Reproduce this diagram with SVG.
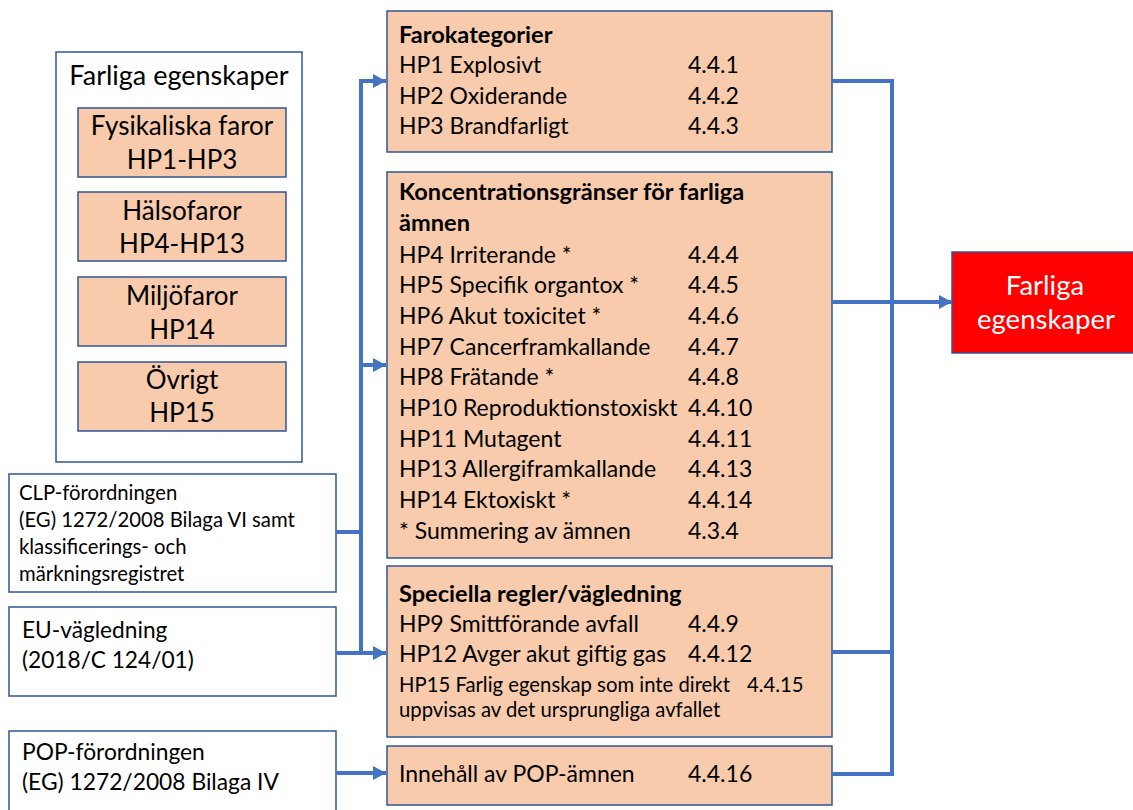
<svg xmlns="http://www.w3.org/2000/svg" width="1133" height="810" viewBox="0 0 1133 810">
<defs>
<marker id="arr" markerUnits="userSpaceOnUse" markerWidth="14" markerHeight="16" refX="13" refY="7" orient="auto">
<path d="M0,0 L13,7 L0,14 Z" fill="#4472C4"/>
</marker>
<style>
.t{font-family:Lato,"Open Sans",sans-serif;fill:#000}
.peach{fill:#F8CBAD;stroke:#2F5597;stroke-width:1.5}
.white{fill:#fff;stroke:#2F5597;stroke-width:1.5}
.c{text-anchor:middle}
.m{font-size:23px}
.b{font-weight:bold;font-size:23.6px}
.l{font-size:26px}
.con{fill:none;stroke:#4472C4;stroke-width:4}
</style>
</defs>
<rect width="1133" height="810" fill="#fff"/>

<g id="farliga-left">
<rect class="white" x="56" y="52" width="246" height="410"/>
<text class="t c" x="179" y="85" font-size="27">Farliga egenskaper</text>
</g>
<g id="fysikaliska">
<rect class="peach" x="78" y="108" width="208" height="69"/>
<text class="t c l" x="182" y="135">Fysikaliska faror</text>
<text class="t c l" x="182" y="169">HP1-HP3</text>
</g>
<g id="halsofaror">
<rect class="peach" x="78" y="192" width="208" height="69"/>
<text class="t c l" x="182" y="220">Hälsofaror</text>
<text class="t c l" x="182" y="253">HP4-HP13</text>
</g>
<g id="miljofaror">
<rect class="peach" x="78" y="277" width="208" height="69"/>
<text class="t c l" x="182" y="305">Miljöfaror</text>
<text class="t c l" x="182" y="339">HP14</text>
</g>
<g id="ovrigt">
<rect class="peach" x="78" y="362" width="208" height="69"/>
<text class="t c l" x="182" y="389">Övrigt</text>
<text class="t c l" x="182" y="422">HP15</text>
</g>

<g id="clp">
<rect class="white" x="9" y="474" width="327" height="118"/>
<text class="t" x="19" y="500" font-size="20.3">CLP-förordningen</text>
<text class="t" x="19" y="527" font-size="20.3">(EG) 1272/2008 Bilaga VI samt</text>
<text class="t" x="19" y="554" font-size="20.3">klassificerings- och</text>
<text class="t" x="19" y="581" font-size="20.3">märkningsregistret</text>
</g>
<g id="eu">
<rect class="white" x="9" y="607" width="327" height="89"/>
<text class="t" x="22" y="638" font-size="22.7">EU-vägledning</text>
<text class="t" x="22" y="668" font-size="22.7">(2018/C 124/01)</text>
</g>
<g id="pop">
<rect class="white" x="9" y="731" width="327" height="85"/>
<text class="t" x="22" y="760" font-size="22.8">POP-förordningen</text>
<text class="t" x="22" y="790" font-size="22.8">(EG) 1272/2008 Bilaga IV</text>
</g>

<g id="farokategorier">
<rect class="peach" x="387" y="11" width="445" height="141"/>
<text class="t b" x="399" y="43">Farokategorier</text>
<text class="t m" x="399" y="73">HP1 Explosivt</text><text class="t m" x="688" y="73">4.4.1</text>
<text class="t m" x="399" y="104">HP2 Oxiderande</text><text class="t m" x="688" y="104">4.4.2</text>
<text class="t m" x="399" y="134">HP3 Brandfarligt</text><text class="t m" x="688" y="134">4.4.3</text>
</g>

<g id="koncentration">
<rect class="peach" x="387" y="172" width="445" height="386"/>
<text class="t b" x="399" y="200">Koncentrationsgränser för farliga</text>
<text class="t b" x="399" y="231">ämnen</text>
<text class="t m" x="399" y="263">HP4 Irriterande *</text><text class="t m" x="688" y="263">4.4.4</text>
<text class="t m" x="399" y="293">HP5 Specifik organtox *</text><text class="t m" x="688" y="293">4.4.5</text>
<text class="t m" x="399" y="324">HP6 Akut toxicitet *</text><text class="t m" x="688" y="324">4.4.6</text>
<text class="t m" x="399" y="355">HP7 Cancerframkallande</text><text class="t m" x="688" y="355">4.4.7</text>
<text class="t m" x="399" y="385">HP8 Frätande *</text><text class="t m" x="688" y="385">4.4.8</text>
<text class="t m" x="399" y="416">HP10 Reproduktionstoxiskt</text><text class="t m" x="688" y="416">4.4.10</text>
<text class="t m" x="399" y="447">HP11 Mutagent</text><text class="t m" x="688" y="447">4.4.11</text>
<text class="t m" x="399" y="477">HP13 Allergiframkallande</text><text class="t m" x="688" y="477">4.4.13</text>
<text class="t m" x="399" y="508">HP14 Ektoxiskt *</text><text class="t m" x="688" y="508">4.4.14</text>
<text class="t m" x="399" y="539">* Summering av ämnen</text><text class="t m" x="688" y="539">4.3.4</text>
</g>

<g id="speciella">
<rect class="peach" x="387" y="566" width="445" height="171"/>
<text class="t b" x="399" y="602">Speciella regler/vägledning</text>
<text class="t m" x="399" y="632">HP9 Smittförande avfall</text><text class="t m" x="688" y="632">4.4.9</text>
<text class="t m" x="399" y="662">HP12 Avger akut giftig gas</text><text class="t m" x="688" y="662">4.4.12</text>
<text class="t" x="399" y="692" font-size="20.3">HP15 Farlig egenskap som inte direkt</text><text class="t" x="747" y="692" font-size="20.3">4.4.15</text>
<text class="t" x="399" y="717" font-size="20.3">uppvisas av det ursprungliga avfallet</text>
</g>

<g id="pop-innehall">
<rect class="peach" x="387" y="746" width="445" height="59"/>
<text class="t m" x="399" y="782">Innehåll av POP-ämnen</text><text class="t m" x="688" y="782">4.4.16</text>
</g>

<g id="farliga-red">
<rect x="952" y="252" width="186" height="101" fill="#FF0000" stroke="#2F5597" stroke-width="1.5"/>
<text class="c" x="1045" y="295" font-size="27.5" fill="#fff" font-family="Lato,'Open Sans',sans-serif">Farliga</text>
<text class="c" x="1046" y="329" font-size="27.5" fill="#fff" font-family="Lato,'Open Sans',sans-serif">egenskaper</text>
</g>

<g id="connectors">
<path class="con" d="M361,653 V81 H386" marker-end="url(#arr)"/>
<path class="con" d="M361,365 H386" marker-end="url(#arr)"/>
<path class="con" d="M336,532 H361"/>
<path class="con" d="M336,653 H386" marker-end="url(#arr)"/>
<path class="con" d="M336,773 H386" marker-end="url(#arr)"/>
<path class="con" d="M832,81 H892 V774 H832"/>
<path class="con" d="M832,652 H892"/>
<path class="con" d="M832,302 H952" marker-end="url(#arr)"/>
</g>
</svg>
